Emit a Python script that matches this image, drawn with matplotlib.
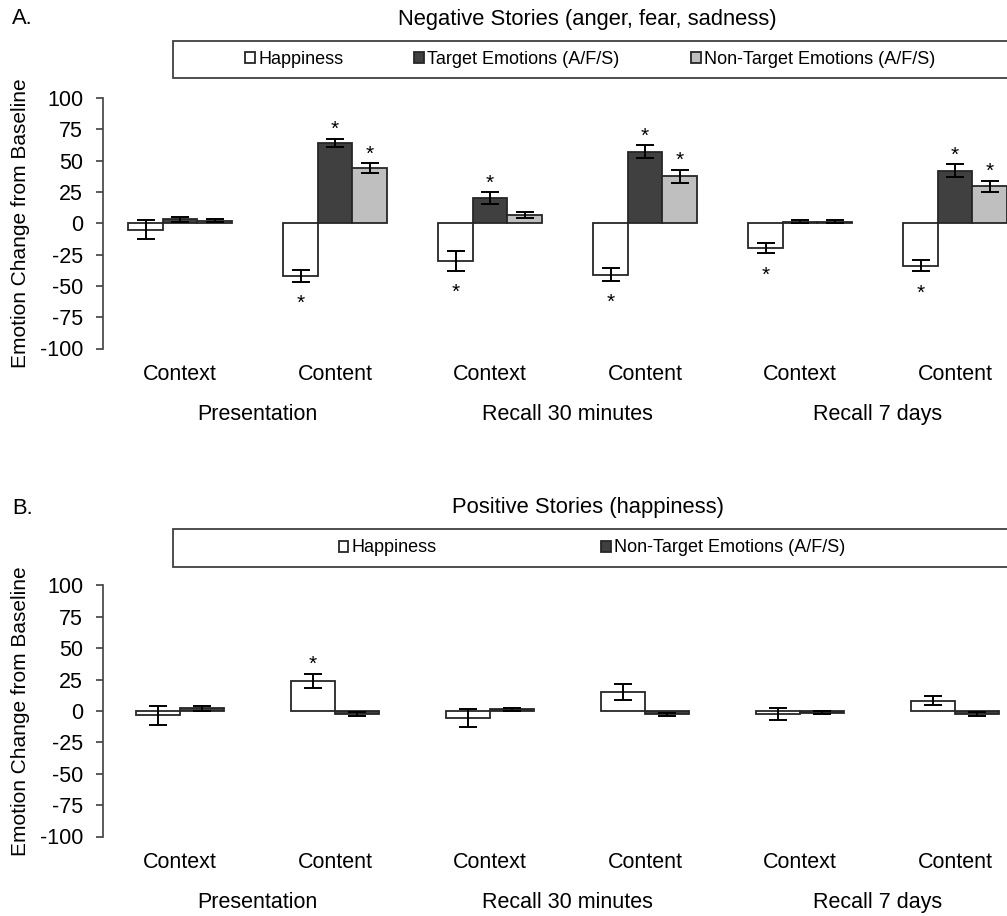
import numpy as np
import matplotlib
matplotlib.use('Agg')
import matplotlib.pyplot as plt
from matplotlib.patches import Rectangle
import matplotlib.transforms as mtransforms

plt.rcParams['font.family'] = ['Liberation Sans', 'DejaVu Sans']

# данные
categories = ["Context", "Content", "Context", "Content", "Context", "Content"]
phases = ["Presentation", "Recall 30 minutes", "Recall 7 days"]

# A: negative stories
neg_happy = [-5, -42, -30, -41, -20, -34]
neg_happy_err = [7.3, 4.7, 7.8, 5.0, 4.0, 4.5]
neg_target = [3, 64, 20, 57, 1.3, 42]
neg_target_err = [2.0, 3.5, 4.7, 5.2, 1.0, 5.0]
neg_nontarget = [2, 44, 6.7, 37.5, 1.3, 29.5]
neg_nontarget_err = [1.2, 3.9, 2.4, 5.2, 1.0, 4.4]
neg_happy_sig = [0, 1, 1, 1, 1, 1]
neg_target_sig = [0, 1, 1, 1, 0, 1]
neg_nontarget_sig = [0, 1, 0, 1, 0, 1]

# B: positive stories
pos_happy = [-3.6, 24, -5.5, 15, -2.4, 8.2]
pos_happy_err = [7.8, 5.6, 7.2, 6.7, 4.5, 3.9]
pos_nontarget = [2, -2.4, 1.3, -2.6, -1.3, -2.4]
pos_nontarget_err = [2.0, 1.5, 1.4, 1.3, 1.0, 1.3]
pos_happy_sig = [0, 1, 0, 0, 0, 0]
pos_nontarget_sig = [0, 0, 0, 0, 0, 0]

yticks = [100, 75, 50, 25, 0, -25, -50, -75, -100]

W, H = 1007, 916
fig = plt.figure(figsize=(W / 100, H / 100), dpi=100)

FS = 15.5
EDGE = '#262626'


def px(x, y):
    return x / W, 1 - y / H


def draw_panel(ax_rect, series, width):
    ax = fig.add_axes(ax_rect)
    x = np.arange(len(categories))
    n = len(series)
    containers = []
    for i, (vals, errs, sig, color, label) in enumerate(series):
        off = (i - (n - 1) / 2) * width
        bc = ax.bar(x + off, vals, width, color=color, edgecolor=EDGE, linewidth=1.3,
                    label=label, zorder=2)
        ax.errorbar(x + off, vals, yerr=errs, fmt='none', ecolor='black',
                    elinewidth=1.4, capsize=6.5, capthick=1.4, zorder=3)
        containers.append(bc)
        for xi, v, e, s in zip(x + off, vals, errs, sig):
            if not s:
                continue
            if v >= 0:
                ax.annotate('*', (xi, v + e), xytext=(0, 2.5), textcoords='offset points',
                            ha='center', va='baseline', fontsize=15)
            else:
                ax.annotate('*', (xi, v - e), xytext=(0, -19.5), textcoords='offset points',
                            ha='center', va='baseline', fontsize=15)
    ax.set_xlim(-0.5, len(categories) - 0.5)
    ax.set_ylim(-100, 100)
    ax.set_yticks(yticks)
    ax.set_yticklabels([str(t) for t in yticks], fontsize=FS)
    ax.tick_params(axis='y', direction='out', length=5, width=1.2, color='#404040', pad=9)
    for s in ['top', 'right', 'bottom']:
        ax.spines[s].set_visible(False)
    ax.spines['left'].set_color('#404040')
    ax.spines['left'].set_linewidth(1.2)
    ax.set_xticks([])
    trans = mtransforms.blended_transform_factory(ax.transData, ax.transAxes)
    for i, c in enumerate(categories):
        ax.annotate(c, (i, 0), xycoords=trans, xytext=(0, -19), textcoords='offset points',
                    ha='center', va='center', fontsize=FS)
    for j, p in enumerate(phases):
        ax.annotate(p, (2 * j + 0.5, 0), xycoords=trans, xytext=(0, -47.5),
                    textcoords='offset points', ha='center', va='center', fontsize=FS)
    ax.patch.set_alpha(0)
    return ax, containers


# панель A
ax_a, cont_a = draw_panel(
    [102.5 / W, 1 - 348.5 / H, 930 / W, 250.5 / H],
    [(neg_happy, neg_happy_err, neg_happy_sig, 'white', 'Happiness'),
     (neg_target, neg_target_err, neg_target_sig, '#404040', 'Target Emotions (A/F/S)'),
     (neg_nontarget, neg_nontarget_err, neg_nontarget_sig, '#bfbfbf', 'Non-Target Emotions (A/F/S)')],
    34.5 / 155)

# панель B
ax_b, cont_b = draw_panel(
    [102.5 / W, 1 - 836.5 / H, 930 / W, 251.2 / H],
    [(pos_happy, pos_happy_err, pos_happy_sig, 'white', 'Happiness'),
     (pos_nontarget, pos_nontarget_err, pos_nontarget_sig, '#404040', 'Non-Target Emotions (A/F/S)')],
    44.3 / 155)

for ax in (ax_a, ax_b):
    pos = ax.get_position()
    fig.text(21 / W, (pos.y0 + pos.y1) / 2, "Emotion Change from Baseline", rotation=90,
             ha='center', va='center', fontsize=15)

# заголовки
fig.text(*px(12, 19), "A.", ha='left', va='center', fontsize=15.8)
fig.text(*px(587.5, 19), "Negative Stories (anger, fear, sadness)", ha='center', va='center', fontsize=15.8)
fig.text(*px(12, 508), "B.", ha='left', va='center', fontsize=15.8)
fig.text(*px(588, 508), "Positive Stories (happiness)", ha='center', va='center', fontsize=15.8)

# рамки легенд
for top, bot in [(41, 78), (529, 567)]:
    fig.add_artist(Rectangle(px(173, bot), 850 / W, (bot - top) / H, transform=fig.transFigure,
                             facecolor='white', edgecolor='#404040', linewidth=1.3, zorder=1))

fig.legend(handles=cont_a, loc='center left', bbox_to_anchor=px(245, 59.5), ncol=3,
           frameon=False, fontsize=13, handlelength=0.55, handleheight=0.55,
           handletextpad=0.17, columnspacing=3.95, borderpad=0, borderaxespad=0)
fig.legend(handles=cont_b, loc='center left', bbox_to_anchor=px(338.5, 548), ncol=2,
           frameon=False, fontsize=13, handlelength=0.55, handleheight=0.55,
           handletextpad=0.17, columnspacing=9.1, borderpad=0, borderaxespad=0)

fig.savefig('out.png', dpi=100)
